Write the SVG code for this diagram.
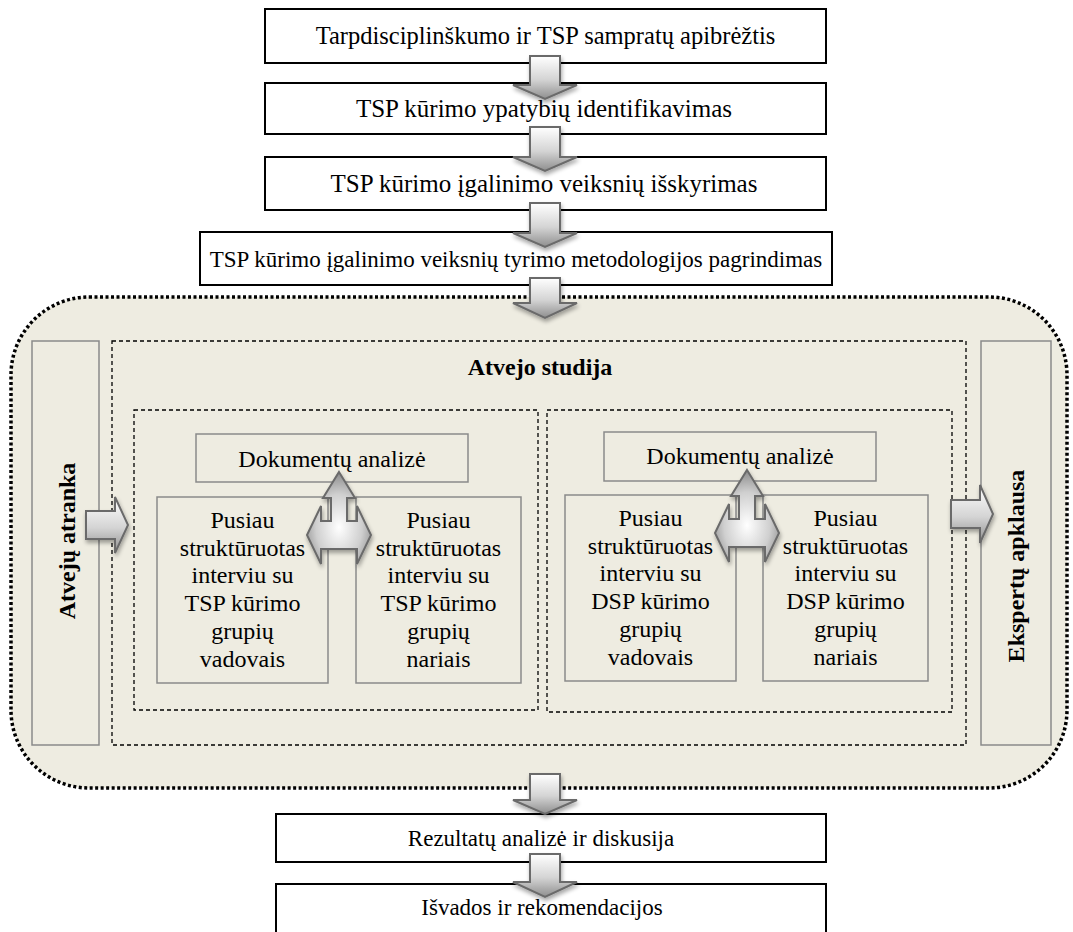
<svg xmlns="http://www.w3.org/2000/svg" width="1073" height="932" viewBox="0 0 1073 932">
<style>
.t{font-family:"Liberation Serif","Times New Roman",serif;font-size:24px;fill:#000;text-anchor:middle}
.b{font-weight:bold}
.box{fill:#fff;stroke:#000;stroke-width:2}
.ibox{fill:#EEECE1;stroke:#8a8a8a;stroke-width:1.5}
.dash{fill:none;stroke:#000;stroke-width:1.3;stroke-dasharray:4 3}
.arr{fill:url(#g);stroke:#6a6a6a;stroke-width:2;stroke-linejoin:miter;filter:url(#sh)}
.tarr{fill:url(#rg);stroke:#6a6a6a;stroke-width:2;filter:url(#sh)}
</style>
<defs>
<linearGradient id="g" x1="0" y1="0" x2="0" y2="1">
<stop offset="0" stop-color="#ffffff"/>
<stop offset="0.55" stop-color="#d4d4d4"/>
<stop offset="1" stop-color="#8e8e8e"/>
</linearGradient>
<radialGradient id="rg" cx="0.5" cy="0.6" r="0.6">
<stop offset="0" stop-color="#ffffff"/>
<stop offset="0.6" stop-color="#cfcfcf"/>
<stop offset="1" stop-color="#8a8a8a"/>
</radialGradient>
<filter id="sh" x="-30%" y="-30%" width="160%" height="160%">
<feGaussianBlur in="SourceAlpha" stdDeviation="2"/>
<feOffset dx="1" dy="3" result="o"/>
<feComponentTransfer><feFuncA type="linear" slope="0.35"/></feComponentTransfer>
<feMerge><feMergeNode/><feMergeNode in="SourceGraphic"/></feMerge>
</filter>
</defs>

<g id="case-area">
<rect x="11" y="297" width="1056" height="491" rx="78" ry="78" fill="#EEECE1" stroke="#000" stroke-width="3.5" stroke-dasharray="3 2.5"/>
</g>

<g id="n1"><rect class="box" x="265" y="9" width="561" height="54"/><text class="t" x="545.5" y="44" style="font-size:24.5px">Tarpdisciplinškumo ir TSP sampratų apibrėžtis</text></g>
<g id="n2"><rect class="box" x="265" y="83" width="561" height="51"/><text class="t" x="544" y="117" style="font-size:25px">TSP kūrimo ypatybių identifikavimas</text></g>
<g id="n3"><rect class="box" x="265" y="157" width="561" height="53"/><text class="t" x="544" y="192" style="font-size:25px">TSP kūrimo įgalinimo veiksnių išskyrimas</text></g>
<g id="n4"><rect class="box" x="200" y="232" width="632" height="53"/><text class="t" x="516" y="267" style="font-size:23px">TSP kūrimo įgalinimo veiksnių tyrimo metodologijos pagrindimas</text></g>

<g id="atranka"><rect class="ibox" x="32" y="341" width="67" height="404"/><text class="t b" transform="translate(67,541) rotate(-90)" x="0" y="8">Atvejų atranka</text></g>
<g id="apklausa"><rect class="ibox" x="981" y="341" width="70" height="404"/><text class="t b" transform="translate(1016,566) rotate(-90)" x="0" y="8">Ekspertų apklausa</text></g>

<g id="studija"><rect class="dash" x="112" y="341" width="854" height="404"/><text class="t b" x="540" y="375">Atvejo studija</text></g>
<g id="grp-tsp"><rect class="dash" x="134" y="410" width="404" height="300"/></g>
<g id="grp-dsp"><rect class="dash" x="547" y="410" width="405" height="302"/></g>

<g id="doc-tsp"><rect class="ibox" x="196" y="434" width="272" height="48"/><text class="t" x="332" y="467">Dokumentų analizė</text></g>
<g id="int-tsp-vad"><rect class="ibox" x="157" y="497" width="171" height="186"/>
<text class="t" x="242.5"><tspan x="242.5" y="528">Pusiau</tspan><tspan x="242.5" y="555.7">struktūruotas</tspan><tspan x="242.5" y="583.4">interviu su</tspan><tspan x="242.5" y="611.1">TSP kūrimo</tspan><tspan x="242.5" y="638.8">grupių</tspan><tspan x="242.5" y="666.5">vadovais</tspan></text></g>
<g id="int-tsp-nar"><rect class="ibox" x="356" y="497" width="165" height="186"/>
<text class="t" x="438.5"><tspan x="438.5" y="528">Pusiau</tspan><tspan x="438.5" y="555.7">struktūruotas</tspan><tspan x="438.5" y="583.4">interviu su</tspan><tspan x="438.5" y="611.1">TSP kūrimo</tspan><tspan x="438.5" y="638.8">grupių</tspan><tspan x="438.5" y="666.5">nariais</tspan></text></g>

<g id="doc-dsp"><rect class="ibox" x="604" y="432" width="272" height="49"/><text class="t" x="740" y="464">Dokumentų analizė</text></g>
<g id="int-dsp-vad"><rect class="ibox" x="565" y="495" width="171" height="186"/>
<text class="t" x="650.5"><tspan x="650.5" y="526">Pusiau</tspan><tspan x="650.5" y="553.7">struktūruotas</tspan><tspan x="650.5" y="581.4">interviu su</tspan><tspan x="650.5" y="609.1">DSP kūrimo</tspan><tspan x="650.5" y="636.8">grupių</tspan><tspan x="650.5" y="664.5">vadovais</tspan></text></g>
<g id="int-dsp-nar"><rect class="ibox" x="763" y="495" width="165" height="186"/>
<text class="t" x="845.5"><tspan x="845.5" y="526">Pusiau</tspan><tspan x="845.5" y="553.7">struktūruotas</tspan><tspan x="845.5" y="581.4">interviu su</tspan><tspan x="845.5" y="609.1">DSP kūrimo</tspan><tspan x="845.5" y="636.8">grupių</tspan><tspan x="845.5" y="664.5">nariais</tspan></text></g>

<g id="n5"><rect class="box" x="276" y="814" width="550" height="48"/><text class="t" x="541" y="846" style="font-size:23px">Rezultatų analizė ir diskusija</text></g>
<g id="n6"><rect class="box" x="276" y="884" width="550" height="60"/><text class="t" x="542" y="915" style="font-size:23px">Išvados ir rekomendacijos</text></g>

<g id="connectors">
<polygon class="arr" points="530,56 560,56 560,85 577,85 545,99 513,85 530,85"/>
<polygon class="arr" points="530,127 560,127 560,157 577,157 545,171 513,157 530,157"/>
<polygon class="arr" points="530,203 560,203 560,233 577,233 545,247 513,233 530,233"/>
<polygon class="arr" points="530,278 560,278 560,303 577,303 545,318 513,303 530,303"/>
<polygon class="arr" points="530,774 560,774 560,800 577,800 545,814 513,800 530,800"/>
<polygon class="arr" points="530,854 560,854 560,882 577,882 545,897 513,882 530,882"/>
<polygon class="arr" points="86,511 115,511 115,497 128,525 115,553 115,539 86,539"/>
<polygon class="arr" points="951,500 980,500 980,485 993,514 980,543 980,528 951,528"/>
<polygon class="tarr" points="339,472 355,498 347,498 347,521 357,521 357,506 371,535 357,564 357,549 321,549 321,564 307,535 321,506 321,521 331,521 331,498 323,498"/>
<polygon class="tarr" points="747,470 763,496 755,496 755,519 765,519 765,504 779,533 765,562 765,547 729,547 729,562 715,533 729,504 729,519 739,519 739,496 731,496"/>
</g>
</svg>
